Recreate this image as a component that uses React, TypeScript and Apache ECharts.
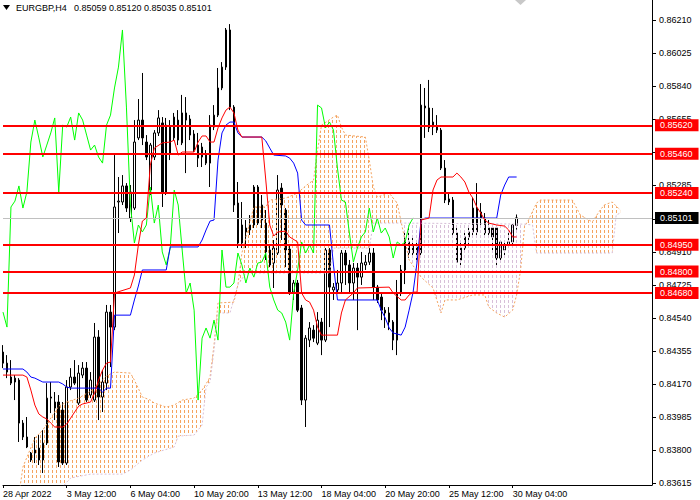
import React, { useEffect, useRef } from "react";
import * as echarts from "echarts";

const FONT = '"Liberation Sans", Arial, sans-serif';
const SYMBOL_TITLE = "EURGBP,H4";
const TITLE_VALUES = "0.85059 0.85120 0.85035 0.85101";

const N_SLOTS = 164;
const xTickIndex = [0, 16, 32, 48, 64, 80, 96, 112, 128];
const xTickText = ["28 Apr 2022", "3 May 12:00", "6 May 04:00", "10 May 20:00", "13 May 12:00", "18 May 04:00", "20 May 20:00", "25 May 12:00", "30 May 04:00"];

// price-scale ticks; the two marked hidden sit fully behind the level boxes in the original
const yTickText = ["0.83615", "0.83800", "0.83985", "0.84170", "0.84355", "0.84540", "0.84725", "0.84910", "0.85095", "0.85285", "0.85470", "0.85655", "0.85840", "0.86025", "0.86210"];
const yHiddenLabels = ["0.85095", "0.85470"];
const Y_AXIS_MIN = 0.83604;
const Y_AXIS_MAX = 0.86322;

const opens = [
  0.84349, 0.84287, 0.84209, 0.84181, 0.84192, 0.83951, 0.83873, 0.83744, 0.83783, 0.83811,
  0.83744, 0.83839, 0.84091, 0.84035, 0.84069, 0.84024, 0.83727, 0.84153, 0.84209, 0.84063,
  0.84220, 0.84259, 0.84108, 0.84080, 0.84433, 0.84097, 0.84175, 0.84573, 0.84489, 0.85190,
  0.85190, 0.85280, 0.85100, 0.85156, 0.85549, 0.85649, 0.85526, 0.85257, 0.85442, 0.85577,
  0.85633, 0.85246, 0.85464, 0.85549, 0.85649, 0.85521, 0.85689, 0.85655, 0.85571, 0.85436,
  0.85498, 0.85453, 0.85408, 0.85610, 0.85677, 0.85829, 0.85946, 0.86154, 0.85722, 0.85184,
  0.84960, 0.85044, 0.85033, 0.85061, 0.85274, 0.85089, 0.85072, 0.84921, 0.84848, 0.84904,
  0.85268, 0.85145, 0.84926, 0.84685, 0.84736, 0.84596, 0.84080, 0.84416, 0.84472, 0.84399,
  0.84517, 0.84416, 0.84921, 0.84697, 0.84697, 0.84736, 0.84904, 0.84837, 0.84736, 0.84820,
  0.84769, 0.84837, 0.84853, 0.84904, 0.84713, 0.84657, 0.84584, 0.84568, 0.84517, 0.84416,
  0.84680, 0.84809, 0.84966, 0.84904, 0.84938, 0.84904, 0.85728, 0.85717, 0.85610, 0.85610,
  0.85593, 0.85380, 0.85207, 0.85201, 0.85016, 0.84865, 0.84932, 0.84994, 0.85022, 0.85156,
  0.85134, 0.85100, 0.85016, 0.85044, 0.85044, 0.84876, 0.84921, 0.84949, 0.84966, 0.85059,
];
const closes = [
  0.84287, 0.84237, 0.84175, 0.84203, 0.83951, 0.83873, 0.83817, 0.83783, 0.83800, 0.83744,
  0.83839, 0.84091, 0.84097, 0.84069, 0.83733, 0.83727, 0.84153, 0.84209, 0.84175, 0.84231,
  0.84259, 0.84080, 0.84192, 0.84433, 0.84097, 0.84181, 0.84573, 0.84489, 0.85162, 0.85195,
  0.85280, 0.85156, 0.85246, 0.85526, 0.85649, 0.85549, 0.85442, 0.85509, 0.85577, 0.85661,
  0.85246, 0.85621, 0.85610, 0.85666, 0.85537, 0.85689, 0.85649, 0.85565, 0.85481, 0.85509,
  0.85442, 0.85408, 0.85621, 0.85677, 0.85829, 0.85946, 0.86154, 0.85722, 0.85173, 0.84960,
  0.85061, 0.85022, 0.85061, 0.85274, 0.85072, 0.85173, 0.84910, 0.84837, 0.84932, 0.85257,
  0.85173, 0.84921, 0.84680, 0.84736, 0.84584, 0.84080, 0.84427, 0.84484, 0.84427, 0.84528,
  0.84416, 0.84921, 0.84713, 0.84713, 0.84736, 0.84904, 0.84837, 0.84736, 0.84820, 0.84769,
  0.84848, 0.84853, 0.84904, 0.84713, 0.84641, 0.84584, 0.84568, 0.84517, 0.84416, 0.84680,
  0.84809, 0.84966, 0.84904, 0.84949, 0.84904, 0.85733, 0.85717, 0.85605, 0.85638, 0.85593,
  0.85380, 0.85201, 0.85190, 0.85016, 0.84853, 0.84932, 0.84994, 0.85022, 0.85156, 0.85022,
  0.85100, 0.85016, 0.85044, 0.84994, 0.84876, 0.84966, 0.84949, 0.84966, 0.85061, 0.85101,
];
const lows = [
  0.84259, 0.84203, 0.84164, 0.84080, 0.83845, 0.83856, 0.83811, 0.83733, 0.83727, 0.83716,
  0.83671, 0.83828, 0.84007, 0.83968, 0.83705, 0.83716, 0.83716, 0.84136, 0.84164, 0.84052,
  0.84203, 0.84069, 0.84091, 0.84069, 0.83968, 0.84013, 0.84136, 0.84265, 0.84472, 0.85016,
  0.85173, 0.85134, 0.85078, 0.85145, 0.85537, 0.85509, 0.85425, 0.85229, 0.85425, 0.85560,
  0.85162, 0.85229, 0.85425, 0.85537, 0.85509, 0.85509, 0.85352, 0.85537, 0.85470, 0.85386,
  0.85386, 0.85397, 0.85274, 0.85593, 0.85666, 0.85817, 0.85930, 0.85705, 0.85134, 0.84932,
  0.84932, 0.84932, 0.85005, 0.85044, 0.85061, 0.85044, 0.84865, 0.84825, 0.84708, 0.84893,
  0.84977, 0.84825, 0.84669, 0.84641, 0.84573, 0.84052, 0.83929, 0.84377, 0.84405, 0.84388,
  0.84332, 0.84405, 0.84489, 0.84641, 0.84685, 0.84685, 0.84725, 0.84685, 0.84641, 0.84472,
  0.84725, 0.84809, 0.84837, 0.84641, 0.84624, 0.84528, 0.84484, 0.84472, 0.84360, 0.84332,
  0.84663, 0.84730, 0.84876, 0.84876, 0.84865, 0.84876, 0.85549, 0.85582, 0.85565, 0.85577,
  0.85369, 0.85184, 0.85173, 0.85005, 0.84848, 0.84825, 0.84910, 0.84938, 0.85005, 0.85005,
  0.85050, 0.84999, 0.84988, 0.84910, 0.84825, 0.84853, 0.84893, 0.84932, 0.84949, 0.85035,
];
const highs = [
  0.84388, 0.84332, 0.84304, 0.84220, 0.84203, 0.83968, 0.83985, 0.83789, 0.83873, 0.83884,
  0.83912, 0.84175, 0.84181, 0.84125, 0.84108, 0.84069, 0.84192, 0.84259, 0.84304, 0.84276,
  0.84293, 0.84293, 0.84237, 0.84512, 0.84472, 0.84248, 0.84613, 0.84613, 0.85453, 0.85330,
  0.85341, 0.85296, 0.85285, 0.85649, 0.85767, 0.85913, 0.85565, 0.85521, 0.85593, 0.85705,
  0.85666, 0.85661, 0.85649, 0.85689, 0.85705, 0.85790, 0.85778, 0.85677, 0.85593, 0.85577,
  0.85521, 0.85481, 0.85677, 0.85733, 0.85941, 0.85974, 0.86165, 0.86187, 0.85733, 0.85302,
  0.85190, 0.85089, 0.85117, 0.85285, 0.85285, 0.85229, 0.85145, 0.84949, 0.84977, 0.85341,
  0.85296, 0.85156, 0.84949, 0.84753, 0.84753, 0.84613, 0.84444, 0.84517, 0.84500, 0.84573,
  0.84540, 0.84932, 0.84932, 0.84736, 0.84809, 0.84921, 0.84921, 0.84865, 0.84848, 0.84848,
  0.84910, 0.84893, 0.84932, 0.84932, 0.84725, 0.84680, 0.84601, 0.84601, 0.84528, 0.84753,
  0.84837, 0.85033, 0.85044, 0.84988, 0.84977, 0.85851, 0.85829, 0.85874, 0.85717, 0.85677,
  0.85605, 0.85425, 0.85246, 0.85218, 0.85061, 0.84977, 0.85033, 0.85044, 0.85218, 0.85296,
  0.85184, 0.85128, 0.85089, 0.85050, 0.85050, 0.84977, 0.84977, 0.85016, 0.85066, 0.85120,
];

// Ichimoku lines: [bar index, price]
const tenkan = [
  [0, 0.8422], [5, 0.8422], [6, 0.84209], [7, 0.84136], [8, 0.84052], [9, 0.84002], [10, 0.83985], [11, 0.83974],
  [12, 0.83951], [13, 0.83929], [15, 0.83929], [16, 0.83946], [17, 0.83979], [18, 0.84013], [19, 0.84046], [20, 0.84058],
  [22, 0.84069], [23, 0.84119], [24, 0.84192], [25, 0.84248], [26, 0.84287], [27, 0.84293], [28, 0.8468], [32, 0.84708],
  [33, 0.84781], [34, 0.84949], [35, 0.85083], [36, 0.851], [37, 0.85397], [38, 0.85492], [40, 0.85521], [42, 0.85526],
  [43, 0.85537], [44, 0.85453], [45, 0.8547], [48, 0.8547], [49, 0.85526], [50, 0.8556], [51, 0.8556], [52, 0.85526],
  [53, 0.85526], [54, 0.85605], [55, 0.85661], [56, 0.85705], [57, 0.85722], [58, 0.85689], [59, 0.85593], [60, 0.85554],
  [65, 0.85554], [66, 0.85313], [67, 0.85061], [68, 0.84999], [69, 0.85022], [71, 0.85027], [72, 0.84994], [74, 0.84966],
  [75, 0.8468], [76, 0.84641], [77, 0.84629], [78, 0.84584], [79, 0.84489], [80, 0.84444], [84, 0.84444], [85, 0.84568],
  [86, 0.84641], [88, 0.8468], [89, 0.84708], [97, 0.84713], [98, 0.8468], [100, 0.84641], [101, 0.84641], [102, 0.84669],
  [103, 0.84685], [104, 0.84685], [105, 0.85089], [107, 0.851], [108, 0.85257], [109, 0.85313], [110, 0.8533], [113, 0.8533],
  [114, 0.85352], [115, 0.8533], [116, 0.85302], [117, 0.85246], [118, 0.85212], [119, 0.85162], [120, 0.85128], [121, 0.85089],
  [122, 0.85072], [124, 0.85061], [126, 0.85055], [127, 0.85033], [128, 0.84994], [129, 0.84994],
];
const kijun = [
  [0, 0.84254], [5, 0.84254], [6, 0.84237], [7, 0.84209], [8, 0.84203], [10, 0.84181], [14, 0.84181], [15, 0.8417],
  [16, 0.84153], [17, 0.84147], [24, 0.84147], [25, 0.84125], [26, 0.84147], [27, 0.84147], [28, 0.84556], [32, 0.84556],
  [33, 0.84641], [34, 0.84719], [35, 0.84809], [41, 0.84809], [42, 0.84938], [49, 0.84938], [50, 0.84977], [51, 0.85033],
  [52, 0.85083], [53, 0.85089], [54, 0.85425], [55, 0.85577], [56, 0.85621], [57, 0.85638], [58, 0.85638], [59, 0.85577],
  [60, 0.85554], [65, 0.85554], [66, 0.85532], [67, 0.85492], [68, 0.85453], [71, 0.85448], [72, 0.85436], [73, 0.85408],
  [74, 0.85352], [75, 0.85089], [76, 0.85061], [82, 0.85061], [83, 0.84837], [84, 0.84641], [94, 0.84641], [95, 0.84584],
  [96, 0.8454], [97, 0.84484], [98, 0.84456], [100, 0.84444], [101, 0.84489], [102, 0.84584], [103, 0.84685], [104, 0.84853],
  [105, 0.85089], [106, 0.851], [124, 0.851], [125, 0.85229], [126, 0.85285], [127, 0.8533], [129, 0.8533],
];
const spanA = [
  [4, 0.83547], [5, 0.83705], [8, 0.83867], [10, 0.83912], [12, 0.83979], [14, 0.84046], [16, 0.84069], [19, 0.84091],
  [22, 0.8413], [24, 0.8417], [26, 0.84215], [28, 0.84237], [32, 0.84231], [33, 0.84192], [35, 0.84097], [37, 0.8408],
  [38, 0.84063], [41, 0.84041], [43, 0.84052], [45, 0.8408], [48, 0.84091], [50, 0.84136], [51, 0.8417], [52, 0.84209],
  [53, 0.84388], [54, 0.84624], [58, 0.84629], [59, 0.84725], [60, 0.84904], [62, 0.85078], [63, 0.85162], [66, 0.85162],
  [67, 0.85201], [71, 0.85212], [74, 0.8524], [76, 0.8528], [78, 0.85313], [79, 0.85481], [80, 0.85621], [83, 0.85666],
  [84, 0.85677], [85, 0.8561], [86, 0.85565], [91, 0.85554], [92, 0.85425], [93, 0.85274], [94, 0.85218], [97, 0.8524],
  [99, 0.85184], [100, 0.85078], [102, 0.84865], [105, 0.84769], [108, 0.84708], [110, 0.84568], [111, 0.84641], [114, 0.84641],
  [118, 0.84669], [121, 0.84669], [122, 0.84601], [124, 0.84568], [126, 0.84545], [128, 0.84584], [129, 0.84669], [130, 0.84809],
  [131, 0.85055], [132, 0.85089], [134, 0.85184], [135, 0.85201], [143, 0.85201], [145, 0.85117], [148, 0.85078], [150, 0.85145],
  [151, 0.85173], [153, 0.8519], [155, 0.85145],
];
const spanB = [
  [4, 0.8352], [15, 0.83592], [16, 0.8362], [17, 0.83643], [22, 0.83665], [30, 0.83665], [32, 0.83688], [35, 0.83744],
  [38, 0.83783], [43, 0.83817], [44, 0.83878], [48, 0.83884], [50, 0.8394], [51, 0.84153], [52, 0.84181], [53, 0.8436],
  [54, 0.84568], [57, 0.84568], [59, 0.84725], [61, 0.84792], [82, 0.84792], [83, 0.84932], [92, 0.84932], [93, 0.85072],
  [100, 0.85072], [131, 0.85066], [133, 0.85061], [134, 0.84904], [153, 0.84904], [154, 0.85117], [155, 0.85128],
];
// stretches of the cloud and whether span A lies above span B there
const cloudSegments = [
  { from: 4, to: 100, up: true },
  { from: 100, to: 131, up: false },
  { from: 131, to: 155, up: true },
];
const CHIKOU_SHIFT = 26;
const levels = [0.8562, 0.8546, 0.8524, 0.8495, 0.848, 0.8468];

const SANDY = "#F4A460";
const THISTLE = "#D8BFD8";

function makeHatch(color: string) {
  const c = document.createElement("canvas");
  c.width = 4;
  c.height = 5;
  const ctx = c.getContext("2d")!;
  ctx.fillStyle = color;
  ctx.fillRect(0, 0, 1, 3);
  return { image: c, repeat: "repeat", imageWidth: 4, imageHeight: 5 };
}

export default function App() {
  const ref = useRef<HTMLDivElement>(null);
  useEffect(() => {
    if (!ref.current) return;
    const chart = echarts.init(ref.current, undefined, { renderer: "svg" });
    const hatchUp = makeHatch(SANDY);
    const hatchDown = makeHatch(THISTLE);
    const categories = Array.from({ length: N_SLOTS }, (_, i) => String(i));
    const candleData = opens.map((o, i) => [o, closes[i], lows[i], highs[i]]);
    const chikou = closes.slice(CHIKOU_SHIFT).map((c, i) => [i, c]);
    const lastPrice = closes[closes.length - 1];
    const yTickValues = yTickText.map(Number);
    const yLabelValues = yTickText.filter((t) => !yHiddenLabels.includes(t)).map(Number);
    const labelBox = {
      show: true,
      position: "end",
      distance: 3,
      color: "#ffffff",
      fontSize: 9,
      fontFamily: FONT,
      lineHeight: 11,
      padding: [1, 6, 0, 5],
    };
    const levelLines = [
      {
        yAxis: lastPrice,
        lineStyle: { color: "#c0c0c0", width: 1, type: "solid" },
        label: { ...labelBox, backgroundColor: "#000000", formatter: lastPrice.toFixed(5) },
      },
      ...levels.map((v) => ({
        yAxis: v,
        lineStyle: { color: "#ff0000", width: 2, type: "solid" },
        label: { ...labelBox, backgroundColor: "#ff0000", formatter: v.toFixed(5) },
      })),
    ];

    const option: any = {
      animation: false,
      backgroundColor: "#ffffff",
      textStyle: { fontFamily: FONT },
      grid: { left: 0, right: 48, top: 0, bottom: 15 },
      xAxis: {
        type: "category",
        data: categories,
        boundaryGap: false,
        axisLine: { lineStyle: { color: "#000000", width: 1 } },
        axisTick: {
          length: 3,
          interval: (i: number) => xTickIndex.includes(i),
          lineStyle: { color: "#000000" },
        },
        axisLabel: {
          interval: (i: number) => xTickIndex.includes(i),
          formatter: (v: string) => {
            const k = xTickIndex.indexOf(Number(v));
            return k >= 0 ? xTickText[k] : "";
          },
          align: "left",
          margin: 4,
          fontSize: 9,
          fontFamily: FONT,
          color: "#000000",
        },
        splitLine: { show: false },
      },
      yAxis: {
        type: "value",
        position: "right",
        min: Y_AXIS_MIN,
        max: Y_AXIS_MAX,
        axisLine: { show: true, lineStyle: { color: "#000000" } },
        axisTick: { show: true, length: 4, customValues: yTickValues, lineStyle: { color: "#000000" } },
        axisLabel: {
          customValues: yLabelValues,
          formatter: (v: number) => v.toFixed(5),
          margin: 7,
          fontSize: 9,
          fontFamily: FONT,
          color: "#000000",
        },
        splitLine: { show: false },
      },
      graphic: [
        { type: "polygon", shape: { points: [[3, 5], [10, 5], [6.5, 10]] }, style: { fill: "#000000" } },
        { type: "text", x: 16, y: 3, style: { text: SYMBOL_TITLE, font: `9px ${FONT}`, fill: "#000000", verticalAlign: "top" } },
        { type: "text", x: 74, y: 3, style: { text: TITLE_VALUES, font: `9px ${FONT}`, fill: "#000000", verticalAlign: "top" } },
        { type: "polygon", shape: { points: [[515, 0], [526, 0], [520.5, 5]] }, style: { fill: "#c8c8c8" } },
      ],
      series: [
        {
          type: "candlestick",
          data: candleData,
          barWidth: 2,
          z: 2,
          itemStyle: {
            color: "#ffffff",
            color0: "#000000",
            borderColor: "#000000",
            borderColor0: "#000000",
            borderWidth: 1,
          },
        },
        {
          type: "custom",
          z: 3,
          clip: true,
          silent: true,
          data: [[0, Y_AXIS_MIN]],
          renderItem: (_params: any, api: any) => ({
            type: "group",
            children: cloudSegments.map((seg) => {
              const top = spanA.filter((p) => p[0] >= seg.from && p[0] <= seg.to).map((p) => api.coord(p));
              const bottom = spanB.filter((p) => p[0] >= seg.from && p[0] <= seg.to).map((p) => api.coord(p)).reverse();
              return {
                type: "polygon",
                shape: { points: top.concat(bottom) },
                style: { fill: seg.up ? hatchUp : hatchDown, stroke: null },
              };
            }),
          }),
        },
        {
          type: "line", data: spanA, symbol: "none", z: 3, clip: true,
          lineStyle: { color: SANDY, width: 1, type: [2, 2] },
        },
        {
          type: "line", data: spanB, symbol: "none", z: 3, clip: true,
          lineStyle: { color: THISTLE, width: 1, type: [2, 2] },
        },
        { type: "line", data: chikou, symbol: "none", z: 4, lineStyle: { color: "#00ff00", width: 1 } },
        { type: "line", data: kijun, symbol: "none", z: 4, lineStyle: { color: "#0000ff", width: 1 } },
        {
          type: "line",
          data: tenkan,
          symbol: "none",
          z: 5,
          lineStyle: { color: "#ff0000", width: 1 },
          markLine: {
            silent: true,
            animation: false,
            symbol: ["none", "none"],
            precision: 5,
            data: levelLines,
          },
        },
      ],
    };
    chart.setOption(option);
    return () => chart.dispose();
  }, []);
  return (
    <div
      ref={ref}
      style={{ position: "absolute", left: 0, top: 0, width: 700, height: 500, background: "#ffffff" }}
    />
  );
}
